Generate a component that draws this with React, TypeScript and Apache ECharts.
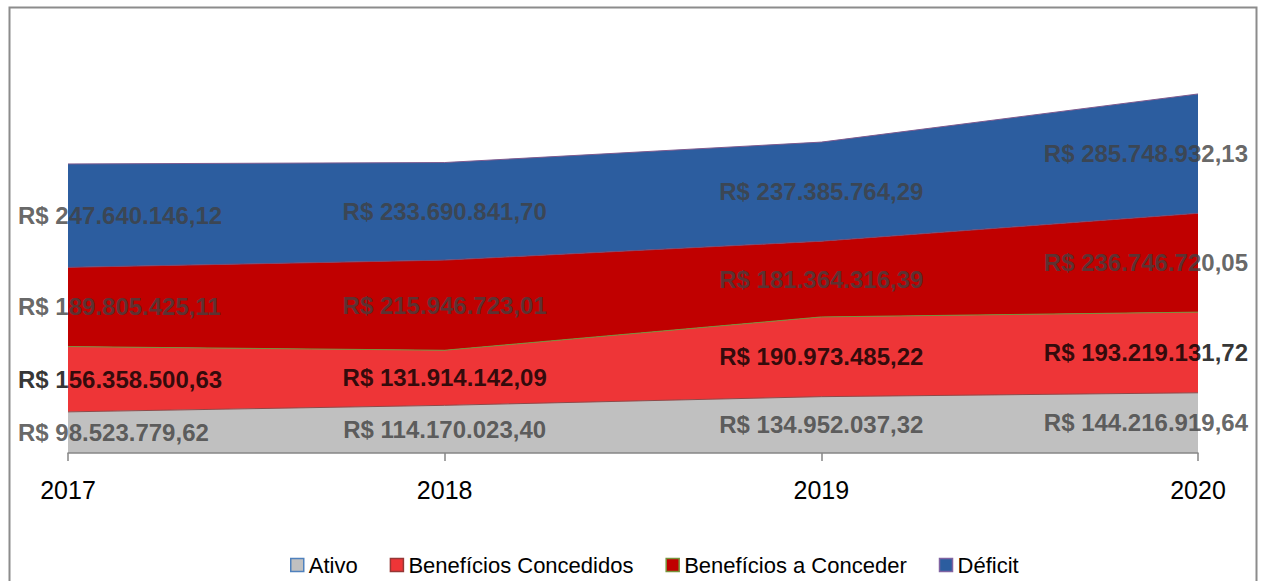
import React, { useEffect, useRef } from "react";
import * as echarts from "echarts";

const categories = ["2017", "2018", "2019", "2020"];
const ativo = [98523779.62, 114170023.4, 134952037.32, 144216919.64];
const beneficiosConcedidos = [156358500.63, 131914142.09, 190973485.22, 193219131.72];
const beneficiosAConceder = [189805425.11, 215946723.01, 181364316.39, 236746720.05];
const deficit = [247640146.12, 233690841.7, 237385764.29, 285748932.13];

const seriesNames = ["Ativo", "Benefícios Concedidos", "Benefícios a Conceder", "Déficit"];
const fills = ["#c0c0c0", "#ee3537", "#c00000", "#2c5d9f"];
const borders = ["#4f81bd", "#953735", "#77933c", "#8064a2"];
const topLines = ["#8c4a4a", "#77933c", "#7a4a70", "#7e5a8e"];
const labelColors = ["#404040", "#000000", "#404040", "#404040"];

function fmt(v: number): string {
  const [i, d] = v.toFixed(2).split(".");
  const withDots = i.replace(/\B(?=(\d{3})+(?!\d))/g, ".");
  return "R$ " + withDots + "," + d;
}

export default function App() {
  const ref = useRef<HTMLDivElement>(null);
  useEffect(() => {
    if (!ref.current) return;
    const chart = echarts.init(ref.current, null, { renderer: "svg" });
    const all = [ativo, beneficiosConcedidos, beneficiosAConceder, deficit];
    const font = "'Liberation Sans', Arial, sans-serif";

    const areaSeries = all.map((arr, k) => ({
      name: seriesNames[k],
      type: "line",
      stack: "total",
      data: arr,
      symbol: "none",
      lineStyle: { color: topLines[k], width: 1 },
      itemStyle: { color: fills[k] },
      areaStyle: { color: fills[k], opacity: 1 },
      z: 2,
    }));

    const labelSeries = all.map((arr, k) => ({
      name: "lbl" + k,
      type: "scatter",
      symbolSize: 0,
      silent: true,
      clip: false,
      z: 10,
      data: arr.map((v, i) => {
        let base = 0;
        for (let j = 0; j < k; j++) base += all[j][i];
        const first = i === 0;
        const last = i === arr.length - 1;
        return {
          value: [categories[i], base + v / 2],
          raw: v,
          label: first
            ? { align: "left", offset: [-50, 0] }
            : last
            ? { align: "right", offset: [50, 0] }
            : { align: "center", offset: [0, 0] },
        };
      }),
      label: {
        show: true,
        position: "inside",
        formatter: (p: any) => fmt(p.data.raw),
        color: labelColors[k],
        fontFamily: font,
        fontWeight: "bold",
        fontSize: 24,
      },
    }));

    chart.setOption({
      animation: false,
      backgroundColor: "#ffffff",
      textStyle: { fontFamily: font },
      graphic: [
        {
          type: "rect",
          shape: { x: 9.5, y: 7.5, width: 1247, height: 620 },
          style: { fill: "none", stroke: "#8c8c8c", lineWidth: 2 },
          z: 100,
        },
      ],
      grid: { left: 68, right: 66, top: 35.5, bottom: 128, containLabel: false },
      xAxis: {
        type: "category",
        data: categories,
        boundaryGap: false,
        axisLine: { lineStyle: { color: "#868686", width: 1.5 } },
        axisTick: { show: true, length: 8, alignWithLabel: true, lineStyle: { color: "#868686", width: 1.5 } },
        axisLabel: { color: "#000000", fontSize: 25, margin: 24, fontFamily: font },
        z: 5,
      },
      yAxis: {
        type: "value",
        min: 0,
        max: 1000000000,
        show: false,
        splitLine: { show: false },
      },
      legend: {
        data: seriesNames.map((n, k) => ({
          name: n,
          icon: "rect",
          itemStyle: { color: fills[k], borderColor: borders[k], borderWidth: 1.5 },
        })),
        left: 285,
        top: 549,
        itemWidth: 13,
        itemHeight: 13,
        itemGap: 32,
        textStyle: { color: "#000000", fontSize: 22, fontFamily: font },
      },
      series: [...areaSeries, ...labelSeries],
    });
    return () => chart.dispose();
  }, []);
  return <div ref={ref} style={{ position: "absolute", left: 0, top: 0, width: 1264, height: 581 }} />;
}
